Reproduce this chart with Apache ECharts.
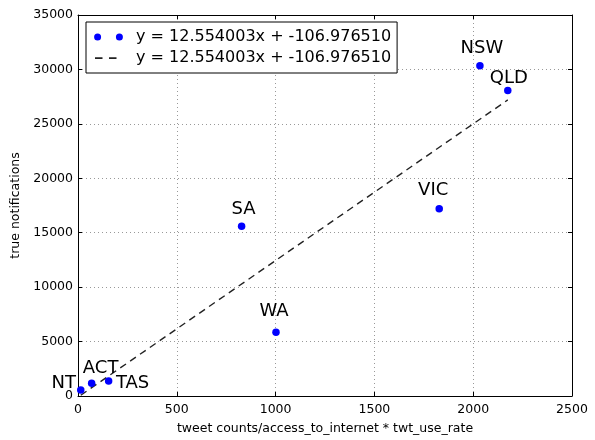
<!DOCTYPE html>
<html>
<head>
<meta charset="utf-8">
<script src="https://cdn.jsdelivr.net/npm/echarts@6/dist/echarts.min.js"></script>
<style>html,body{margin:0;padding:0;background:#fff}#c{width:595px;height:440px}</style>
</head>
<body>
<div id="c"></div>
<script>
const states = ['NT', 'ACT', 'TAS', 'SA', 'WA', 'VIC', 'NSW', 'QLD'];
const xVals = [14, 69, 155, 828, 1002, 1828, 2034, 2175];
const yVals = [550, 1160, 1370, 15600, 5850, 17210, 30340, 28055];
const slope = 12.554003;
const intercept = -106.976510;
const xTicks = [0, 500, 1000, 1500, 2000, 2500];
const yTicks = [0, 5000, 10000, 15000, 20000, 25000, 30000, 35000];
const eqText = 'y = ' + slope.toFixed(6) + 'x + ' + intercept.toFixed(6);

// label placement (styling only)
const labelOffsets = {
  NT: [-17, -6.5], ACT: [9, -15.5], TAS: [24, 2.5], SA: [2, -16.5],
  WA: [-2, -20.5], VIC: [-6, -18.5], NSW: [2, -17.5], QLD: [1, -12.5]
};

const FONT = 'DejaVu Sans';
const pts = states.map((s, i) => ({
  name: s,
  value: [xVals[i], yVals[i]],
  label: { offset: labelOffsets[s] }
}));
const xMin = Math.min.apply(null, xVals), xMax = Math.max.apply(null, xVals);
const fit = [[xMin, slope * xMin + intercept], [xMax, slope * xMax + intercept]];

const chart = echarts.init(document.getElementById('c'), null, { renderer: 'canvas' });
const plain = v => String(v);
const baseX = {
  type: 'value', min: xTicks[0], max: xTicks[xTicks.length - 1], interval: 500,
  axisLine: { show: true, onZero: false, lineStyle: { color: '#000', width: 1 } },
  axisTick: { show: true, inside: true, length: 4, lineStyle: { color: '#000' } }
};
const baseY = {
  type: 'value', min: yTicks[0], max: yTicks[yTicks.length - 1], interval: 5000,
  axisLine: { show: true, onZero: false, lineStyle: { color: '#000', width: 1 } },
  axisTick: { show: true, inside: true, length: 4, lineStyle: { color: '#000' } }
};
chart.setOption({
  animation: false,
  backgroundColor: '#fff',
  textStyle: { fontFamily: FONT },
  grid: { left: 78, right: 23, top: 15, bottom: 42, containLabel: false },
  xAxis: [
    Object.assign({}, baseX, {
      position: 'bottom',
      name: 'tweet counts/access_to_internet * twt_use_rate',
      nameLocation: 'middle', nameGap: 26,
      nameTextStyle: { fontFamily: FONT, fontSize: 12.5, color: '#000' },
      axisLabel: { margin: 7, fontFamily: FONT, fontSize: 12.5, color: '#000', formatter: plain },
      splitLine: { show: true, lineStyle: { color: '#999', type: [1, 3], width: 1 } }
    }),
    Object.assign({}, baseX, { position: 'top', axisLabel: { show: false }, splitLine: { show: false } })
  ],
  yAxis: [
    Object.assign({}, baseY, {
      position: 'left',
      name: 'true notifications',
      nameLocation: 'middle', nameGap: 45, nameRotate: 90,
      nameTextStyle: { fontFamily: FONT, fontSize: 12.5, color: '#000' },
      axisLabel: { margin: 5, fontFamily: FONT, fontSize: 12.5, color: '#000', formatter: plain },
      splitLine: { show: true, lineStyle: { color: '#999', type: [1, 3], width: 1 } }
    }),
    Object.assign({}, baseY, { position: 'right', axisLabel: { show: false }, splitLine: { show: false } })
  ],
  legend: {
    orient: 'vertical', left: 86, top: 22,
    padding: [7, 6, 7, 8],
    itemGap: 5,
    itemWidth: 29, itemHeight: 7,
    backgroundColor: '#fff', borderColor: '#000', borderWidth: 1, borderRadius: 0,
    formatter: function () { return eqText; },
    textStyle: { fontFamily: FONT, fontSize: 16, color: '#000', padding: [0, 0, 0, 8] },
    data: [
      { name: 'pts', icon: 'path://M0,3.5a3.5,3.5 0 1,0 7,0a3.5,3.5 0 1,0 -7,0zM21.8,3.5a3.5,3.5 0 1,0 7,0a3.5,3.5 0 1,0 -7,0z',
        itemStyle: { color: '#0000ff', opacity: 1, borderWidth: 0 } },
      { name: 'fit', icon: 'path://M0,0h0.03v0.03h-0.03zM1,2.7h7.5v1.7h-7.5zM15,2.7h7.5v1.7h-7.5zM28.97,6.97h0.03v0.03h-0.03z',
        itemStyle: { color: '#222', opacity: 1, borderWidth: 0 } }
    ]
  },
  series: [
    {
      name: 'fit', type: 'line', data: fit, symbol: 'none', color: '#222',
      lineStyle: { color: '#222', width: 1.4, type: [7, 5] },
      z: 2
    },
    {
      name: 'pts', type: 'scatter', data: pts, symbol: 'circle', symbolSize: 7.5,
      itemStyle: { color: '#0000ff', opacity: 1 },
      label: {
        show: true, position: 'inside', formatter: '{b}',
        fontFamily: FONT, fontSize: 18, color: '#000'
      },
      z: 3
    }
  ]
});
</script>
</body>
</html>
